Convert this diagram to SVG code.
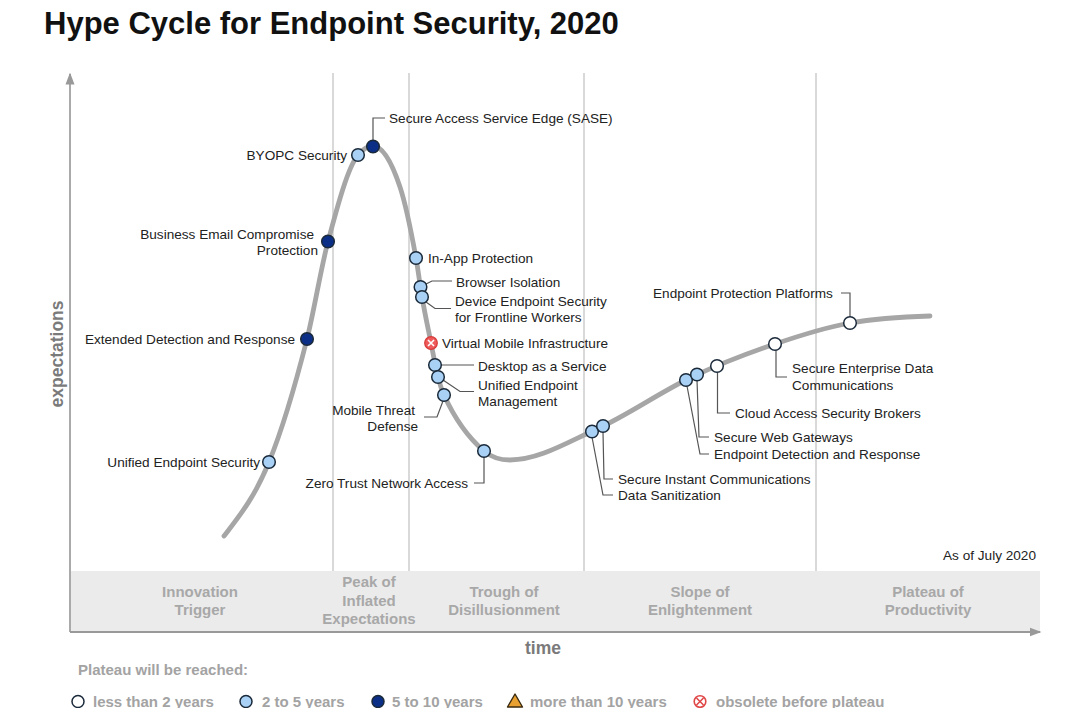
<svg xmlns="http://www.w3.org/2000/svg" width="1080" height="708" viewBox="0 0 1080 708">
<style>
.t{font-family:"Liberation Sans",Arial,sans-serif}
.lbl{font-family:"Liberation Sans",Arial,sans-serif;font-size:13.6px;fill:#222}
.end{text-anchor:end}
.ph{font-family:"Liberation Sans",Arial,sans-serif;font-size:15px;font-weight:bold;fill:#a8a8a8;text-anchor:middle}
.ax{font-family:"Liberation Sans",Arial,sans-serif;font-size:17.5px;font-weight:bold;fill:#7a7a7a;text-anchor:middle}
.lg{font-family:"Liberation Sans",Arial,sans-serif;font-size:15px;font-weight:bold;fill:#a3a3a3}
.dot{stroke:#1b2a3a;stroke-width:1.5}
.w{fill:#ffffff}.b{fill:#a9d1f5}.n{fill:#0b2f86}
.ld{fill:none;stroke:#555;stroke-width:1.2}
.div{stroke:#d9d9d9;stroke-width:2}
</style>
<defs>
<marker id="arr" viewBox="0 0 8 8" refX="7" refY="4" markerWidth="6" markerHeight="6" orient="auto-start-reverse">
<path d="M0,1 L8,4 L0,7 Z" fill="#999"/>
</marker>
<g id="obs">
<circle r="6.3" fill="#ef5b5b" stroke="#d83a3a" stroke-width="1.2"/>
<path d="M-3,-3 L3,3 M3,-3 L-3,3" stroke="#fff" stroke-width="1.6"/>
</g>
</defs>
<rect width="1080" height="708" fill="#fff"/>
<text class="t" x="44" y="34" font-size="31" font-weight="bold" fill="#111">Hype Cycle for Endpoint Security, 2020</text>

<g id="frame">
<rect x="70" y="571" width="970" height="61" fill="#ebebeb"/>
<line class="div" x1="333" y1="73" x2="333" y2="571"/>
<line class="div" x1="409" y1="73" x2="409" y2="571"/>
<line class="div" x1="584" y1="73" x2="584" y2="571"/>
<line class="div" x1="816" y1="73" x2="816" y2="571"/>
<line x1="70" y1="632" x2="70" y2="74" stroke="#aaa" stroke-width="2" marker-end="url(#arr)"/>
<line x1="70" y1="632" x2="1040" y2="632" stroke="#999" stroke-width="2" marker-end="url(#arr)"/>
<text class="ph" x="200" y="597">Innovation</text>
<text class="ph" x="200" y="615">Trigger</text>
<text class="ph" x="369" y="587">Peak of</text>
<text class="ph" x="369" y="606">Inflated</text>
<text class="ph" x="369" y="624">Expectations</text>
<text class="ph" x="504" y="597">Trough of</text>
<text class="ph" x="504" y="615">Disillusionment</text>
<text class="ph" x="700" y="597">Slope of</text>
<text class="ph" x="700" y="615">Enlightenment</text>
<text class="ph" x="928" y="597">Plateau of</text>
<text class="ph" x="928" y="615">Productivity</text>
<text class="ax" x="543" y="654">time</text>
<text class="ax" transform="translate(63,354) rotate(-90)">expectations</text>
<text class="lbl end" x="1036" y="560">As of July 2020</text>
</g>

<path id="curve" d="M224,536 C239,516.5 254,498.6 269,462 C281.67,431.1 294.33,388.9 307,339 C314,311.4 321,267.8 328,241.5 C338,203.9 348,167 358,155 C363,149 368,146 373,146 C382,146 391,160 400,187 C405.33,203 410.67,228.7 416,258 C418,269 420,285.4 422,297 C425,314.4 428,328 431,343 C433.33,354.7 435.67,367.9 438,377 C440,384.8 442,390.6 444,395 C457.33,424.3 470.67,439.7 484,451 C492.67,458.4 501.33,460 510,460 C539,460 568,442 597,429 C628.67,414.75 660.33,391.9 692,377 C719.67,364 747.33,353.4 775,344 C800,335.5 825,327.5 850,323 C876.67,318.2 903.33,316.8 930,316" fill="none" stroke="#a6a6a6" stroke-width="4.8" stroke-linecap="round"/>

<g id="connectors">
<path class="ld" d="M373,140 V118 H385"/>
<path class="ld" d="M426,284 L432,281 H452"/>
<path class="ld" d="M426,302 L435,308.5 H451"/>
<path class="ld" d="M441,365 H474"/>
<path class="ld" d="M443,380 L460,391.5 H474"/>
<path class="ld" d="M443,401 L437,417 H424"/>
<path class="ld" d="M484,457 V483 H474"/>
<path class="ld" d="M592,437 L603,495 H613"/>
<path class="ld" d="M603,432 L604,479 H613"/>
<path class="ld" d="M697,380 L699,437 H709"/>
<path class="ld" d="M687,386 L700,454 H709"/>
<path class="ld" d="M717.5,372 V413 H730"/>
<path class="ld" d="M776,350 V377 H787"/>
<path class="ld" d="M841,293 H850 V317"/>
</g>

<g id="n-ues"><circle class="dot b" cx="269" cy="462" r="6.3"/><text class="lbl end" x="260" y="467">Unified Endpoint Security</text></g>
<g id="n-xdr"><circle class="dot n" cx="307" cy="339" r="6.3"/><text class="lbl end" x="295" y="344">Extended Detection and Response</text></g>
<g id="n-bec"><circle class="dot n" cx="328" cy="241.5" r="6.3"/><text class="lbl end" x="314" y="238.5">Business Email Compromise</text><text class="lbl end" x="318" y="255">Protection</text></g>
<g id="n-byopc"><circle class="dot b" cx="358" cy="155" r="6.3"/><text class="lbl end" x="347" y="160">BYOPC Security</text></g>
<g id="n-sase"><circle class="dot n" cx="373" cy="146.5" r="6.3"/><text class="lbl" x="389" y="123">Secure Access Service Edge (SASE)</text></g>
<g id="n-inapp"><circle class="dot b" cx="416" cy="258" r="6.3"/><text class="lbl" x="428" y="263">In-App Protection</text></g>
<g id="n-browser"><circle class="dot b" cx="420.5" cy="287" r="6.3"/><text class="lbl" x="456" y="287">Browser Isolation</text></g>
<g id="n-device"><circle class="dot b" cx="422" cy="297" r="6.3"/><text class="lbl" x="455" y="305.5">Device Endpoint Security</text><text class="lbl" x="455" y="322">for Frontline Workers</text></g>
<g id="n-vmi"><use href="#obs" x="431" y="343"/><text class="lbl" x="442" y="348">Virtual Mobile Infrastructure</text></g>
<g id="n-daas"><circle class="dot b" cx="435" cy="365" r="6.3"/><text class="lbl" x="478" y="370.5">Desktop as a Service</text></g>
<g id="n-uem"><circle class="dot b" cx="438" cy="377" r="6.3"/><text class="lbl" x="478" y="389.5">Unified Endpoint</text><text class="lbl" x="478" y="406">Management</text></g>
<g id="n-mtd"><circle class="dot b" cx="444" cy="395" r="6.3"/><text class="lbl end" x="415" y="414.5">Mobile Threat</text><text class="lbl end" x="418" y="431">Defense</text></g>
<g id="n-ztna"><circle class="dot b" cx="484" cy="451" r="6.3"/><text class="lbl end" x="468" y="488">Zero Trust Network Access</text></g>
<g id="n-ds"><circle class="dot b" cx="592" cy="431.5" r="6.3"/><text class="lbl" x="618" y="499.5">Data Sanitization</text></g>
<g id="n-sic"><circle class="dot b" cx="603" cy="426" r="6.3"/><text class="lbl" x="618" y="483.5">Secure Instant Communications</text></g>
<g id="n-edr"><circle class="dot b" cx="686" cy="380" r="6.3"/><text class="lbl" x="714" y="459">Endpoint Detection and Response</text></g>
<g id="n-swg"><circle class="dot b" cx="697" cy="374.5" r="6.3"/><text class="lbl" x="714" y="442">Secure Web Gateways</text></g>
<g id="n-casb"><circle class="dot w" cx="717" cy="366" r="6.3"/><text class="lbl" x="735" y="418">Cloud Access Security Brokers</text></g>
<g id="n-sedc"><circle class="dot w" cx="775" cy="344" r="6.3"/><text class="lbl" x="792" y="373">Secure Enterprise Data</text><text class="lbl" x="792" y="389.5">Communications</text></g>
<g id="n-epp"><circle class="dot w" cx="850" cy="323" r="6.3"/><text class="lbl" x="653" y="298">Endpoint Protection Platforms</text></g>

<g id="legend">
<text class="lg" x="78" y="675">Plateau will be reached:</text>
<circle class="dot w" cx="78" cy="701.5" r="6"/>
<text class="lg" x="93" y="706.5">less than 2 years</text>
<circle class="dot b" cx="246" cy="701.5" r="6"/>
<text class="lg" x="262" y="706.5">2 to 5 years</text>
<circle class="dot n" cx="378" cy="701.5" r="6"/>
<text class="lg" x="392" y="706.5">5 to 10 years</text>
<path d="M515,694 L522.5,707 L507.5,707 Z" fill="#e8a030" stroke="#3a2a10" stroke-width="1.4" stroke-linejoin="round"/>
<text class="lg" x="530" y="706.5">more than 10 years</text>
<circle cx="700" cy="701.5" r="5.8" fill="#fff" stroke="#e04848" stroke-width="1.6"/>
<path d="M696.5,698 L703.5,705 M703.5,698 L696.5,705" stroke="#e04848" stroke-width="1.6"/>
<text class="lg" x="716" y="706.5">obsolete before plateau</text>
</g>
</svg>
